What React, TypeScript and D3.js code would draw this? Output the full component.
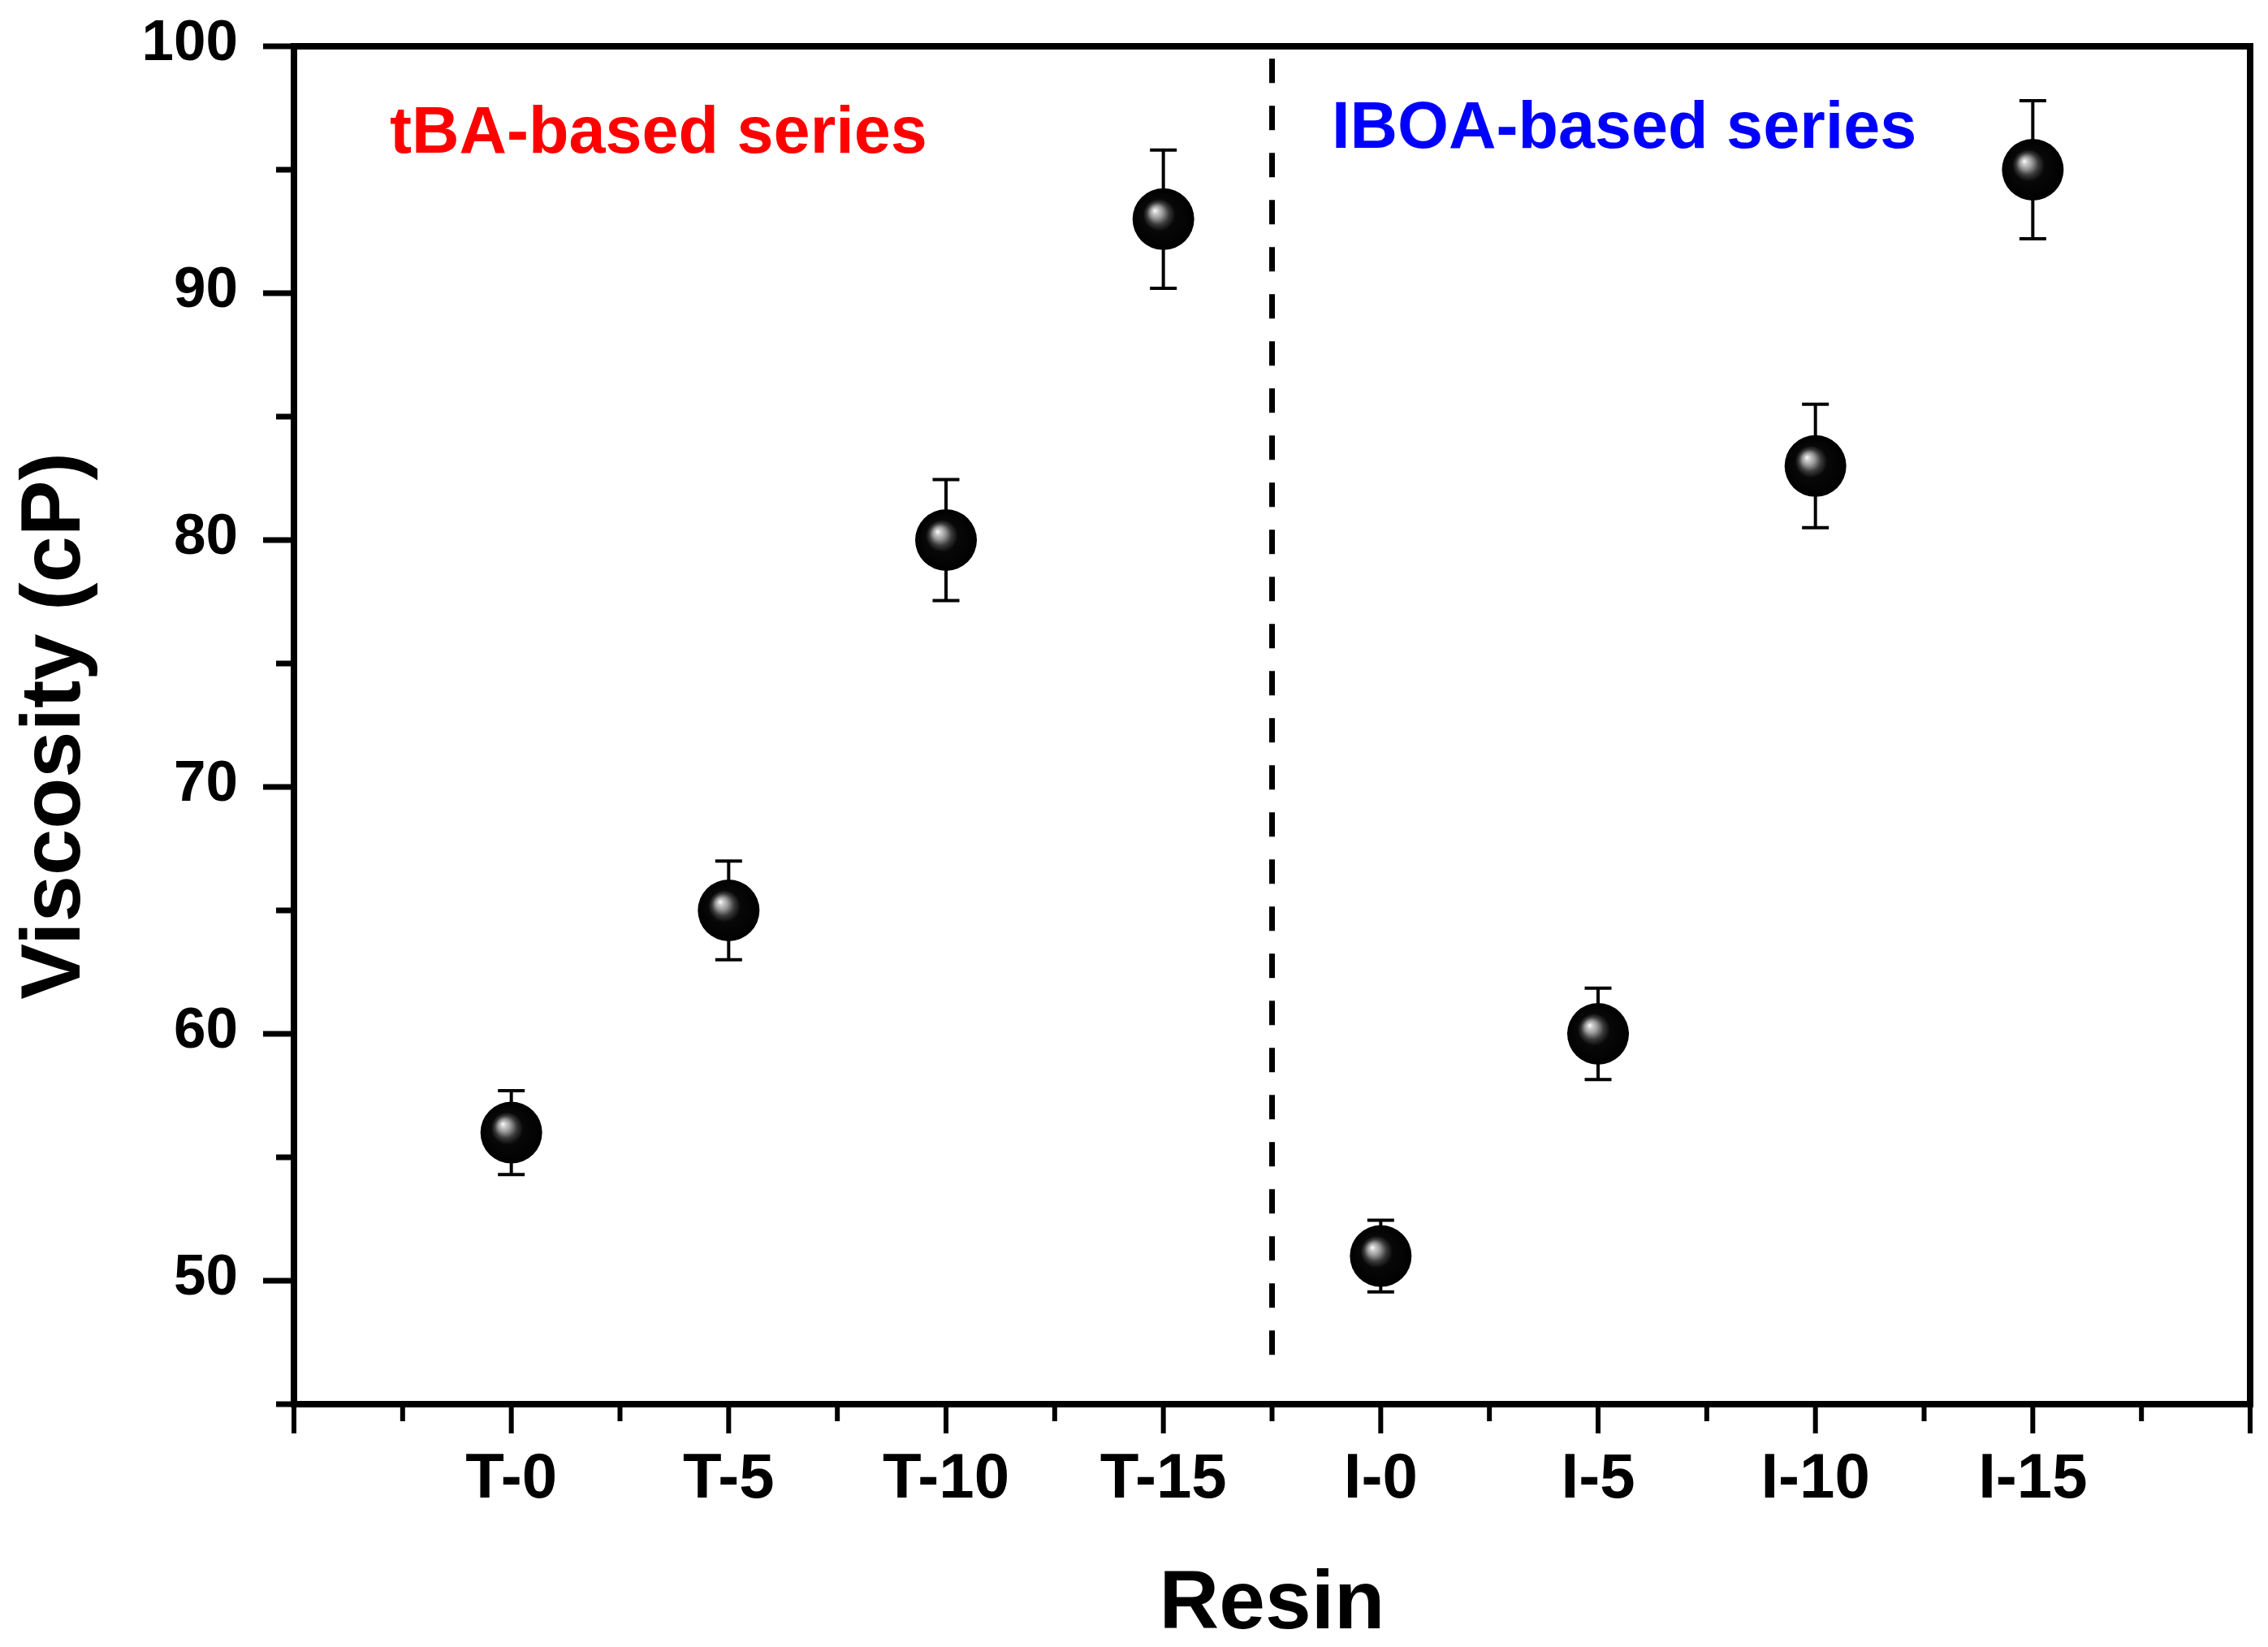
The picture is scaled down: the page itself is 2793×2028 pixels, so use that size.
import React from "react";
import * as d3 from "d3";

// Resin samples and measured viscosity (cP) with standard deviation
const categories = ["T-0", "T-5", "T-10", "T-15", "I-0", "I-5", "I-10", "I-15"];
const viscosity = [56, 65, 80, 93, 51, 60, 83, 95];
const viscosityErr = [1.7, 2.0, 2.45, 2.8, 1.45, 1.85, 2.5, 2.8];

const yMajorTicks = [50, 60, 70, 80, 90, 100];
const yMinorTicks = [45, 55, 65, 75, 85, 95];

const seriesLabels = ["tBA-based series", "IBOA-based series"];

const W = 2793;
const H = 2028;
const FONT = "'Liberation Sans', Arial, Helvetica, sans-serif";

export default function App() {
  const left = 362;
  const right = 2771;
  const top = 57;
  const bottom = 1729;

  const x = d3.scaleLinear().domain([0, 9]).range([left, right]);
  const y = d3.scaleLinear().domain([45, 100]).range([bottom, top]);

  const xMajor = d3.range(0, 10);
  const xMinor = d3.range(0.5, 9, 1);

  const points = categories.map((c, i) => ({
    name: c,
    pos: i + 1,
    v: viscosity[i],
    e: viscosityErr[i],
  }));

  const r = 38;
  const cap = 16.5;

  return (
    <svg
      width={W}
      height={H}
      viewBox={`0 0 ${W} ${H}`}
      style={{ position: "absolute", left: 0, top: 0, background: "#fff" }}
    >
      <defs>
        <radialGradient id="sphere" cx="0.5" cy="0.5" r="0.5" fx="0.36" fy="0.36">
          <stop offset="0" stopColor="#ffffff" />
          <stop offset="0.08" stopColor="#d0d0d0" />
          <stop offset="0.2" stopColor="#9a9a9a" />
          <stop offset="0.36" stopColor="#3a3a3a" />
          <stop offset="0.52" stopColor="#080808" />
          <stop offset="1" stopColor="#000000" />
        </radialGradient>
      </defs>

      {/* divider between the two resin families */}
      <line
        x1={x(4.5)}
        x2={x(4.5)}
        y1={y(99.5)}
        y2={y(46.8)}
        stroke="#000"
        strokeWidth={7}
        strokeDasharray="30 28"
      />

      {/* series annotations */}
      <text x={480} y={188} fontFamily={FONT} fontWeight="bold" fontSize={81} fill="#ff0000">
        {seriesLabels[0]}
      </text>
      <text x={1640} y={182} fontFamily={FONT} fontWeight="bold" fontSize={81} fill="#0000ff">
        {seriesLabels[1]}
      </text>

      {/* error bars */}
      {points.map((p) => (
        <g key={`err-${p.name}`} stroke="#000" strokeWidth={4}>
          <line x1={x(p.pos)} x2={x(p.pos)} y1={y(p.v + p.e)} y2={y(p.v - p.e)} />
          <line x1={x(p.pos) - cap} x2={x(p.pos) + cap} y1={y(p.v + p.e)} y2={y(p.v + p.e)} />
          <line x1={x(p.pos) - cap} x2={x(p.pos) + cap} y1={y(p.v - p.e)} y2={y(p.v - p.e)} />
        </g>
      ))}

      {/* sphere markers */}
      {points.map((p) => (
        <circle key={`pt-${p.name}`} cx={x(p.pos)} cy={y(p.v)} r={r} fill="url(#sphere)" />
      ))}

      {/* frame */}
      <rect
        x={left}
        y={top}
        width={right - left}
        height={bottom - top}
        fill="none"
        stroke="#000"
        strokeWidth={8}
      />

      {/* y axis ticks */}
      {yMajorTicks.map((t) => (
        <g key={`ym-${t}`}>
          <line x1={left - 38} x2={left} y1={y(t)} y2={y(t)} stroke="#000" strokeWidth={7} />
          <text
            x={293}
            y={y(t) + 17}
            textAnchor="end"
            fontFamily={FONT}
            fontWeight="bold"
            fontSize={71}
            fill="#000"
          >
            {t}
          </text>
        </g>
      ))}
      {yMinorTicks.map((t) => (
        <line key={`yn-${t}`} x1={left - 22} x2={left} y1={y(t)} y2={y(t)} stroke="#000" strokeWidth={7} />
      ))}

      {/* x axis ticks */}
      {xMajor.map((t) => (
        <line key={`xm-${t}`} x1={x(t)} x2={x(t)} y1={bottom} y2={bottom + 36} stroke="#000" strokeWidth={6} />
      ))}
      {xMinor.map((t) => (
        <line key={`xn-${t}`} x1={x(t)} x2={x(t)} y1={bottom} y2={bottom + 21} stroke="#000" strokeWidth={6} />
      ))}
      {points.map((p) => (
        <text
          key={`xl-${p.name}`}
          x={x(p.pos)}
          y={1844}
          textAnchor="middle"
          fontFamily={FONT}
          fontWeight="bold"
          fontSize={78}
          fill="#000"
        >
          {p.name}
        </text>
      ))}

      {/* axis titles */}
      <text
        x={(left + right) / 2}
        y={2005}
        textAnchor="middle"
        fontFamily={FONT}
        fontWeight="bold"
        fontSize={102}
        fill="#000"
      >
        Resin
      </text>
      <text
        transform={`translate(98, 894) rotate(-90)`}
        textAnchor="middle"
        fontFamily={FONT}
        fontWeight="bold"
        fontSize={103}
        fill="#000"
      >
        Viscosity (cP)
      </text>
    </svg>
  );
}
